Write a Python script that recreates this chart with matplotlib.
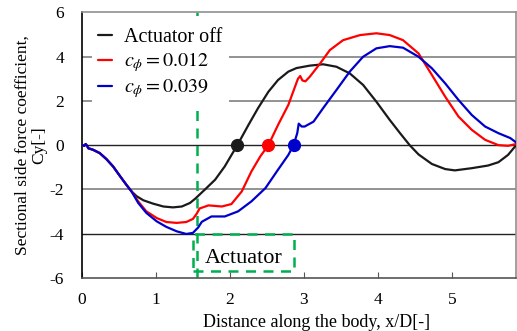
import numpy as np
import matplotlib
matplotlib.use('Agg')
import matplotlib.pyplot as plt
from matplotlib.patches import Rectangle


# Sectional side force coefficient along the body, x/D
x_off = [0.0, 0.03, 0.05, 0.07, 0.085, 0.15, 0.24, 0.33, 0.42, 0.51, 0.60, 0.67,
         0.74, 0.83, 0.96, 1.10, 1.23, 1.35, 1.46, 1.53, 1.66, 1.80, 1.93, 2.10,
         2.25, 2.38, 2.52, 2.65, 2.79, 2.90, 3.08, 3.26, 3.44, 3.62, 3.80, 3.98,
         4.16, 4.30, 4.43, 4.55, 4.73, 4.91, 5.04, 5.27, 5.49, 5.63, 5.76, 5.87]
cy_off = [0.0, -0.03, 0.05, -0.04, -0.14, -0.21, -0.36, -0.63, -0.96, -1.38, -1.79, -2.09,
          -2.31, -2.49, -2.64, -2.77, -2.81, -2.77, -2.61, -2.42, -2.01, -1.56, -0.96, 0.0,
          0.91, 1.67, 2.41, 2.94, 3.32, 3.48, 3.59, 3.65, 3.54, 3.24, 2.72, 1.96,
          1.14, 0.54, 0.0, -0.42, -0.85, -1.08, -1.14, -1.04, -0.92, -0.77, -0.44, 0.0]

x_012 = [0.0, 0.03, 0.05, 0.07, 0.085, 0.15, 0.24, 0.33, 0.42, 0.51, 0.60, 0.67,
         0.76, 0.87, 1.01, 1.14, 1.28, 1.41, 1.50, 1.55, 1.59, 1.71, 1.89, 2.02,
         2.16, 2.29, 2.41, 2.52, 2.65, 2.79, 2.88, 2.92, 2.95, 2.98, 3.02, 3.08,
         3.22, 3.35, 3.53, 3.76, 3.98, 4.16, 4.34, 4.55, 4.73, 4.91, 5.09, 5.27,
         5.45, 5.63, 5.76, 5.87]
cy_012 = [0.0, -0.03, 0.05, -0.04, -0.14, -0.21, -0.36, -0.63, -0.96, -1.38, -1.79, -2.09,
          -2.54, -2.99, -3.29, -3.47, -3.51, -3.47, -3.33, -3.10, -2.86, -2.72, -2.77, -2.66,
          -2.09, -1.19, -0.51, 0.0, 0.91, 1.82, 2.64, 3.00, 3.12, 2.92, 2.88, 3.09,
          3.69, 4.29, 4.74, 4.97, 5.05, 4.97, 4.74, 4.14, 3.17, 2.19, 1.29, 0.69,
          0.24, 0.0, -0.03, 0.05]

x_039 = [0.0, 0.03, 0.05, 0.07, 0.085, 0.15, 0.24, 0.33, 0.42, 0.51, 0.60, 0.67,
         0.76, 0.87, 1.01, 1.14, 1.28, 1.41, 1.50, 1.57, 1.62, 1.75, 1.93, 2.11,
         2.29, 2.48, 2.65, 2.79, 2.86, 2.91, 2.93, 2.97, 3.01, 3.13, 3.26, 3.44,
         3.62, 3.80, 3.98, 4.16, 4.34, 4.55, 4.73, 4.91, 5.09, 5.27, 5.45, 5.63,
         5.79, 5.87]
cy_039 = [0.0, -0.03, 0.05, -0.04, -0.14, -0.21, -0.36, -0.63, -0.96, -1.38, -1.79, -2.09,
          -2.61, -3.06, -3.44, -3.69, -3.89, -4.01, -3.96, -3.72, -3.46, -3.22, -3.22, -2.99,
          -2.54, -1.94, -1.11, -0.44, 0.0, 0.54, 0.97, 0.84, 0.84, 1.06, 1.67, 2.49,
          3.32, 3.99, 4.37, 4.47, 4.40, 3.99, 3.47, 2.79, 2.04, 1.36, 0.84, 0.54,
          0.32, 0.12]

labels = ['Actuator off', r'$c_\phi = 0.012$', r'$c_\phi = 0.039$']
colors = ['#1a1a1a', '#ff0000', '#0000cc']
x_zero = [2.10, 2.52, 2.86]  # where each curve crosses Cy = 0

act_pos = 1.55  # actuator location
act_box = (1.50, 2.86, -5.7, -4.0)

plt.rcParams['font.family'] = ['Liberation Serif', 'DejaVu Serif']
plt.rcParams['mathtext.fontset'] = 'stix'
plt.rcParams['axes.unicode_minus'] = False

fig = plt.figure(figsize=(5.17, 3.31), dpi=100)
ax = fig.add_axes([0.1586, 0.160, 0.8404, 0.803])

# horizontal grid
for yv in [4, 2, -2]:
    ax.axhline(yv, color='#808080', lw=1.2, zorder=1)
for yv in [0, -4]:
    ax.axhline(yv, color='#222222', lw=1.0, zorder=1)

for xs, ys, c, lab in zip([x_off, x_012, x_039], [cy_off, cy_012, cy_039], colors, labels):
    ax.plot(xs, ys, color=c, lw=1.6, label=lab, zorder=3,
            solid_joinstyle='round', solid_capstyle='round')
for xz, c in zip(x_zero, colors):
    ax.plot(xz, 0, 'o', color=c, ms=8.5, zorder=4)

# actuator marker and box
ax.axvline(act_pos, color='#00b050', lw=1.8, ls=(0, (4, 3)), zorder=2)
ax.add_patch(Rectangle((act_box[0], act_box[2]), act_box[1] - act_box[0], act_box[3] - act_box[2],
                       fill=False, ec='#00b050', lw=1.8, ls=(0, (4, 3)), zorder=2))
ax.text(1.66, -5.1, 'Actuator', fontsize=16, ha='left', va='center', zorder=5)

ax.set_xlim(0, 5.874)
ax.set_ylim(-6, 6)
ax.set_xticks(range(0, 6))
ax.set_yticks(range(-6, 7, 2))
ax.tick_params(axis='x', direction='in', length=4, pad=10, labelsize=12.5, color='#555555')
ax.tick_params(axis='y', direction='in', length=0, pad=13, labelsize=12.5)
ax.spines['left'].set_color('black')
ax.spines['bottom'].set_color('#555555')
for s in ['top', 'right']:
    ax.spines[s].set_color('#909090')
for s in ax.spines.values():
    s.set_linewidth(1.2)

ax.set_xlabel('Distance along the body, x/D[-]', fontsize=13)
ax.xaxis.set_label_coords(0.541, -0.135)
ax.set_ylabel('Sectional side force coefficient,\nCy[-]', fontsize=12.5, linespacing=1.05)
ax.yaxis.set_label_coords(-0.08, 0.5)

leg = ax.legend(loc='upper left', bbox_to_anchor=(0.0, 1.0), fontsize=14.5, frameon=True,
                facecolor='white', edgecolor='none', framealpha=1, fancybox=False,
                handlelength=0.7, handletextpad=0.6, labelspacing=0.15, borderpad=0.3)
leg.set_zorder(6)

fig.savefig('out.png', dpi=100)
